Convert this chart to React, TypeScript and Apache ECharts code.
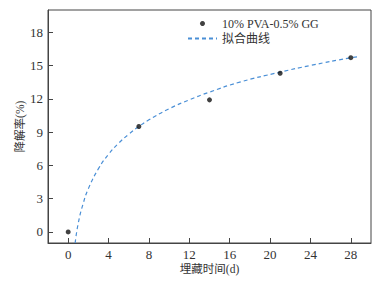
import React, { useEffect, useRef } from "react";
import * as echarts from "echarts";

const xTicks = [0, 4, 8, 12, 16, 20, 24, 28];
const yTicks = [0, 3, 6, 9, 12, 15, 18];
const measuredDays = [0, 7, 14, 21, 28];
const measuredRate = [0, 9.5, 11.9, 14.3, 15.7];
const fitDays = [0.69, 1, 1.5, 2, 3, 4, 5, 6, 7, 8, 10, 12, 14, 17, 21, 24, 28, 28.8];
const fitRate = [-1.0, 0.8, 2.6, 3.9, 5.7, 7.0, 8.0, 8.8, 9.5, 10.1, 11.1, 11.9, 12.6, 13.5, 14.4, 15.0, 15.7, 15.8];
const seriesNames = ["10% PVA-0.5% GG", "拟合曲线"];
const xName = "埋藏时间(d)";
const yName = "降解率(%)";

const FONT = "'Liberation Serif', 'Times New Roman', 'Noto Sans CJK SC', serif";
const INK = "#333";

export default function App() {
  const ref = useRef<HTMLDivElement>(null);
  useEffect(() => {
    if (!ref.current) return;
    const chart = echarts.init(ref.current, undefined, { renderer: "svg" });
    chart.setOption({
      animation: false,
      backgroundColor: "#fff",
      textStyle: { fontFamily: FONT, color: INK },
      grid: {
        left: 48,
        top: 10,
        right: 11,
        bottom: 39,
        show: true,
        borderColor: "#444",
        borderWidth: 1,
      },
      legend: {
        orient: "vertical",
        left: 187,
        top: 16,
        padding: 0,
        itemWidth: 29,
        itemHeight: 5,
        itemGap: 0,
        itemTextGap: 4,
        textStyle: { fontFamily: FONT, fontSize: 12, color: INK, lineHeight: 15 },
        data: [
          { name: seriesNames[0], icon: "circle" },
          { name: seriesNames[1], itemStyle: { opacity: 0 } },
        ],
      },
      xAxis: {
        type: "value",
        min: -2,
        max: 30,
        name: xName,
        nameLocation: "middle",
        nameGap: 20,
        nameMoveOverlap: false,
        nameTextStyle: { fontFamily: FONT, fontSize: 11.5, color: INK },
        axisLine: { show: true, onZero: false, lineStyle: { color: "#444", width: 1 } },
        axisTick: { show: true, inside: true, length: 5, customValues: xTicks, lineStyle: { color: "#444" } },
        axisLabel: { customValues: xTicks, fontFamily: FONT, fontSize: 13, color: INK, margin: 5 },
        splitLine: { show: false },
      },
      yAxis: {
        type: "value",
        min: -1,
        max: 20,
        name: yName,
        nameLocation: "middle",
        nameGap: 22,
        nameMoveOverlap: false,
        nameTextStyle: { fontFamily: FONT, fontSize: 11.5, color: INK },
        axisLine: { show: true, onZero: false, lineStyle: { color: "#444", width: 1 } },
        axisTick: { show: true, inside: true, length: 5, customValues: yTicks, lineStyle: { color: "#444" } },
        axisLabel: { customValues: yTicks, fontFamily: FONT, fontSize: 13, color: INK, margin: 5 },
        splitLine: { show: false },
      },
      series: [
        {
          name: seriesNames[0],
          type: "scatter",
          symbol: "circle",
          symbolSize: 5,
          itemStyle: { color: "#111" },
          data: measuredDays.map((d, i) => [d, measuredRate[i]]),
          z: 3,
        },
        {
          name: seriesNames[1],
          type: "line",
          symbol: "none",
          smooth: true,
          lineStyle: { color: "#4a8fd6", width: 1.2, type: [4, 3] },
          itemStyle: { color: "#4a8fd6" },
          data: fitDays.map((d, i) => [d, fitRate[i]]),
          z: 2,
        },
      ],
    });
    return () => chart.dispose();
  }, []);
  return <div ref={ref} style={{ width: 382, height: 282, position: "fixed", left: 0, top: 0 }} />;
}
